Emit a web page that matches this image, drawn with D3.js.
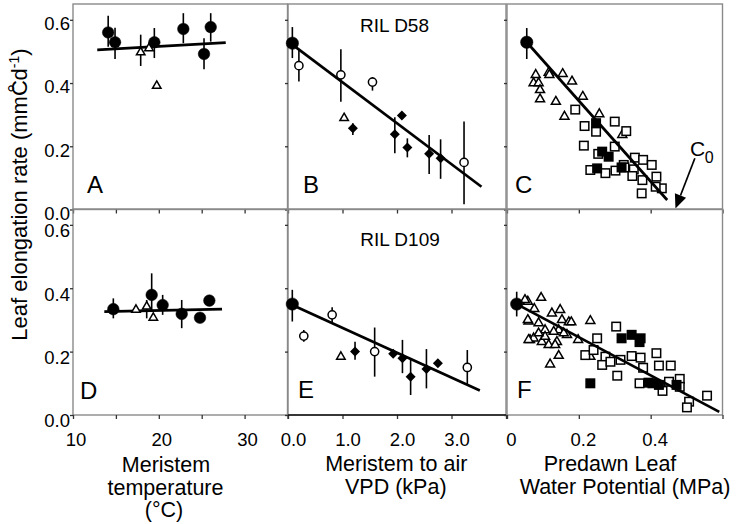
<!DOCTYPE html>
<html><head><meta charset="utf-8">
<script src="https://cdn.jsdelivr.net/npm/d3@7"></script>
<style>
body{margin:0;background:#fff}
svg{display:block}
text{font-family:"Liberation Sans",Arial,Helvetica,sans-serif;fill:#000}
</style>
</head><body><svg id="c" width="738" height="524"></svg>
<script>
// ---------- axis ticks / labels ----------
const tempTicks=[10,15,20,25,30,35];
const tempTickLabels=["10","","20","","30",""];
const vpdTicks=[0,1,2,3,4];
const vpdTickLabels=["0.0","1.0","2.0","3.0",""];
const psiTicks=[0,0.2,0.4,0.6];
const psiTickLabels=["0","0.2","0.4",""];
const rateTicks=[0,0.2,0.4,0.6];
const rateTickLabels=["0.0","0.2","0.4","0.6"];

// ---------- Panel A (RIL D58, temperature) [x, y, errLo, errHi] ----------
const aCircles=[[14.1,0.560,0.515,0.613],[14.9,0.529,0.476,0.575],[19.48,0.529,0.479,0.574],
  [22.86,0.571,0.526,0.621],[25.27,0.492,0.444,0.542],[26.05,0.577,0.531,0.621]];
const aTriangles=[[17.89,0.497,0.454,0.553],[18.86,0.510,null,null],[19.76,0.391,null,null]];
const aFit=[[12.83,0.505],[27.8,0.528]];

// ---------- Panel B (RIL D58, VPD) ----------
const bCircleBig=[[0.08,0.526,0.479,0.577]];
const bOpenCircles=[[0.20,0.455,0.405,0.505],[0.97,0.426,0.341,0.507],[1.55,0.403,0.376,0.419],[3.23,0.149,0.017,0.278]];
const bTriangles=[[1.03,0.289,null,null]];
const bDiamonds=[[1.19,0.257,0.236,0.273],[1.96,0.238,0.178,0.292],[2.09,0.297,null,null],
  [2.19,0.196,0.165,0.225],[2.59,0.176,0.112,0.236],[2.8,0.162,0.097,0.222]];
const bFit=[[0.068,0.523],[3.55,0.072]];

// ---------- Panel C (RIL D58, leaf water potential) ----------
const cCircleBig=[[0.055,0.529,0.476,0.574]];
const cTriangles=[[0.080,0.426],[0.074,0.400],[0.088,0.400],[0.092,0.378],[0.092,0.349],[0.116,0.433],
  [0.118,0.426],[0.155,0.429],[0.181,0.405],[0.136,0.341],[0.160,0.294],[0.211,0.357],[0.257,0.302],[0.321,0.236]];
const cOpenSquares=[[0.190,0.316],[0.216,0.264],[0.248,0.246],[0.300,0.278],[0.332,0.248],[0.214,0.202],
  [0.254,0.176],[0.300,0.199],[0.232,0.125],[0.274,0.115],[0.302,0.123],[0.325,0.141],[0.356,0.164],
  [0.379,0.157],[0.403,0.141],[0.353,0.127],[0.377,0.093],[0.416,0.104],[0.431,0.067],[0.414,0.072],
  [0.375,0.051],[0.327,0.133],[0.349,0.106]];
const cFilledSquares=[[0.248,0.273],[0.265,0.183],[0.283,0.167],[0.251,0.130],[0.319,0.133]];
const cFit=[[0.055,0.529],[0.446,0.030]];
const c0Arrow=[[0.523,0.162],[0.469,0.003]];

// ---------- Panel D (RIL D109, temperature) ----------
const dCircles=[[14.70,0.334,0.305,0.368],[19.17,0.379,0.326,0.447],[20.45,0.347,0.316,0.379],
  [22.67,0.319,0.274,0.363],[24.80,0.307,null,null],[25.89,0.361,null,null]];
const dTriangles=[[17.34,0.332,null,null],[18.59,0.342,0.305,0.363],[19.36,0.307,null,null]];
const dFit=[[13.65,0.326],[27.37,0.334]];

// ---------- Panel E (RIL D109, VPD) ----------
const eCircleBig=[[0.079,0.350,0.295,0.395]];
const eOpenCircles=[[0.29,0.249,0.231,0.268],[0.81,0.316,0.293,0.340],[1.59,0.200,0.121,0.276],[3.29,0.150,0.096,0.205]];
const eTriangles=[[0.97,0.184,null,null]];
const eDiamonds=[[1.23,0.200,0.174,0.231],[1.93,0.193,null,null],[2.10,0.179,0.132,0.237],
  [2.25,0.121,0.063,0.174],[2.54,0.145,0.084,0.208],[2.75,0.163,null,null]];
const eFit=[[0.079,0.347],[3.52,0.077]];

// ---------- Panel F (RIL D109, leaf water potential) ----------
const fCircleBig=[[0.027,0.350,0.311,0.389]];
const fTriangles=[[0.058,0.358],[0.076,0.335],[0.095,0.370],[0.060,0.295],[0.088,0.290],[0.106,0.268],
  [0.064,0.237],[0.074,0.242],[0.097,0.231],[0.116,0.221],[0.125,0.321],[0.148,0.332],[0.153,0.300],
  [0.144,0.268],[0.139,0.231],[0.144,0.187],[0.120,0.160],[0.172,0.293],[0.179,0.293],[0.167,0.253],
  [0.198,0.237],[0.232,0.297],[0.232,0.184],[0.158,0.258],[0.130,0.263],[0.106,0.247],[0.088,0.258],
  [0.134,0.221],[0.050,0.363],[0.058,0.300],[0.060,0.237]];
const fOpenSquares=[[0.304,0.279],[0.251,0.242],[0.218,0.189],[0.241,0.205],[0.274,0.184],[0.265,0.158],
  [0.288,0.168],[0.316,0.174],[0.347,0.186],[0.372,0.181],[0.379,0.149],[0.416,0.195],[0.423,0.156],
  [0.456,0.156],[0.307,0.124],[0.369,0.100],[0.433,0.076],[0.451,0.105],[0.481,0.114],[0.481,0.089],
  [0.507,0.042],[0.501,0.024],[0.557,0.061]];
const fFilledSquares=[[0.319,0.242],[0.347,0.253],[0.372,0.242],[0.369,0.230],[0.232,0.100],
  [0.394,0.102],[0.423,0.095],[0.472,0.095],[0.405,0.100]];
const fFit=[[0.027,0.350],[0.591,0.010]];

// ---------- layout ----------
const svg=d3.select("#c");
const FONT='"Liberation Sans",Arial,sans-serif';
const cols=[
  {dom:[10,35],rng:[73,287.5],ticks:tempTicks,labels:tempTickLabels,ldx:2.5},
  {dom:[0,4],rng:[288,506],ticks:vpdTicks,labels:vpdTickLabels,ldx:5},
  {dom:[0,0.6],rng:[507,722.5],ticks:psiTicks,labels:psiTickLabels,ldx:4}
];
const rows=[{rng:[209.5,4]},{rng:[415,209]}];
const yDom=[0,0.65];

function panel(ci,ri){
  const c=cols[ci],r=rows[ri];
  const x=d3.scaleLinear().domain(c.dom).range(c.rng);
  const y=d3.scaleLinear().domain(yDom).range(r.rng);
  return {x,y,g:svg.append("g")};
}

const panels={};
[["A",0,0],["B",1,0],["C",2,0],["D",0,1],["E",1,1],["F",2,1]].forEach(([k,ci,ri])=>{
  panels[k]=Object.assign(panel(ci,ri),{ci,ri});
});

// borders and axes
Object.values(panels).forEach(p=>{
  const c=cols[p.ci];
  p.g.append("rect").attr("x",p.x.range()[0]).attr("y",p.y.range()[1])
    .attr("width",p.x.range()[1]-p.x.range()[0]).attr("height",p.y.range()[0]-p.y.range()[1])
    .attr("fill","none").attr("stroke","#8a8a8a").attr("stroke-width",1.4);
  const xa=d3.axisBottom(p.x).tickValues(c.ticks).tickSize(4).tickPadding(14)
    .tickFormat((d,i)=>p.ri===1?c.labels[i]:"");
  const gx=p.g.append("g").attr("transform",`translate(0,${p.y.range()[0]})`).call(xa);
  gx.select(".domain").remove();
  gx.selectAll(".tick line").attr("stroke","#333").attr("stroke-width",1.3);
  gx.selectAll("text").attr("font-size",18.5).attr("dx",c.ldx).style("font-family",FONT);
  const ya=d3.axisLeft(p.y).tickValues(rateTicks).tickSize(3).tickPadding(0)
    .tickFormat((d,i)=>p.ci===0?rateTickLabels[i]:"");
  const gy=p.g.append("g").attr("transform",`translate(${p.x.range()[0]},0)`).call(ya);
  gy.select(".domain").remove();
  gy.selectAll(".tick line").attr("stroke","#333").attr("stroke-width",1.3);
  gy.selectAll("text").attr("font-size",18.5).attr("y",p.ri===0?4:6).style("font-family",FONT);
});
(function(){const p=panels.E;p.g.append("line").attr("x1",p.x.range()[0]).attr("x2",p.x.range()[1])
  .attr("y1",p.y.range()[0]).attr("y2",p.y.range()[0]).attr("stroke","#111").attr("stroke-width",1.5);})();

// ---------- marks ----------
function fit(p,pts){
  p.g.append("line").attr("x1",p.x(pts[0][0])).attr("y1",p.y(pts[0][1]))
    .attr("x2",p.x(pts[1][0])).attr("y2",p.y(pts[1][1]))
    .attr("stroke","#000").attr("stroke-width",2.7);
}
function errs(p,pts){
  p.g.selectAll(null).data(pts.filter(d=>d[2]!=null)).enter().append("line")
    .attr("x1",d=>p.x(d[0])).attr("x2",d=>p.x(d[0]))
    .attr("y1",d=>p.y(d[2])).attr("y2",d=>p.y(d[3]))
    .attr("stroke","#000").attr("stroke-width",1.6);
}
function circles(p,pts,r,filled){
  p.g.selectAll(null).data(pts).enter().append("circle")
    .attr("cx",d=>p.x(d[0])).attr("cy",d=>p.y(d[1])).attr("r",r)
    .attr("fill",filled?"#000":"#fff").attr("stroke","#000").attr("stroke-width",filled?0.5:1.5);
}
function triangles(p,pts,s){
  const h=s*0.87;
  p.g.selectAll(null).data(pts).enter().append("path")
    .attr("d",d=>{const cx=p.x(d[0]),cy=p.y(d[1]);
      return `M${cx},${cy-h*2/3}L${cx+s/2},${cy+h/3}L${cx-s/2},${cy+h/3}Z`;})
    .attr("fill","#fff").attr("stroke","#000").attr("stroke-width",1.5).attr("stroke-linejoin","miter");
}
function diamonds(p,pts,a){
  p.g.selectAll(null).data(pts).enter().append("path")
    .attr("d",d=>{const cx=p.x(d[0]),cy=p.y(d[1]);
      return `M${cx},${cy-a}L${cx+a},${cy}L${cx},${cy+a}L${cx-a},${cy}Z`;})
    .attr("fill","#000");
}
function squares(p,pts,s,filled){
  p.g.selectAll(null).data(pts).enter().append("rect")
    .attr("x",d=>p.x(d[0])-s/2).attr("y",d=>p.y(d[1])-s/2).attr("width",s).attr("height",s)
    .attr("fill",filled?"#000":"#fff").attr("stroke","#000").attr("stroke-width",1.5);
}

// A
fit(panels.A,aFit); errs(panels.A,aCircles); errs(panels.A,aTriangles);
triangles(panels.A,aTriangles,8.5); circles(panels.A,aCircles,5.8,true);
// B
fit(panels.B,bFit); errs(panels.B,bCircleBig); errs(panels.B,bOpenCircles); errs(panels.B,bDiamonds);
circles(panels.B,bOpenCircles,4.1,false); triangles(panels.B,bTriangles,8.5);
diamonds(panels.B,bDiamonds,5); circles(panels.B,bCircleBig,6.2,true);
// C
errs(panels.C,cCircleBig);
triangles(panels.C,cTriangles,9); squares(panels.C,cOpenSquares,8.5,false); squares(panels.C,cFilledSquares,8.5,true);
fit(panels.C,cFit); circles(panels.C,cCircleBig,6.2,true);
// D
fit(panels.D,dFit); errs(panels.D,dCircles); errs(panels.D,dTriangles);
triangles(panels.D,dTriangles,8.5); circles(panels.D,dCircles,5.8,true);
// E
fit(panels.E,eFit); errs(panels.E,eCircleBig); errs(panels.E,eOpenCircles); errs(panels.E,eDiamonds);
circles(panels.E,eOpenCircles,4.1,false); triangles(panels.E,eTriangles,8.5);
diamonds(panels.E,eDiamonds,5); circles(panels.E,eCircleBig,6.2,true);
// F
errs(panels.F,fCircleBig);
triangles(panels.F,fTriangles,9); squares(panels.F,fOpenSquares,8.5,false); squares(panels.F,fFilledSquares,8.5,true);
fit(panels.F,fFit); circles(panels.F,fCircleBig,6.2,true);

// c0 arrow
(function(){const p=panels.C;
  const x1=p.x(c0Arrow[0][0]),y1=p.y(c0Arrow[0][1]),x2=p.x(c0Arrow[1][0]),y2=p.y(c0Arrow[1][1]);
  const ang=Math.atan2(y2-y1,x2-x1),L=14,Hw=6;
  const bx=x2-L*Math.cos(ang),by=y2-L*Math.sin(ang);
  p.g.append("line").attr("x1",x1).attr("y1",y1).attr("x2",bx).attr("y2",by).attr("stroke","#000").attr("stroke-width",1.7);
  const nx=-Math.sin(ang),ny=Math.cos(ang);
  p.g.append("path").attr("d",`M${x2},${y2}L${bx+nx*Hw},${by+ny*Hw}L${bx-nx*Hw},${by-ny*Hw}Z`).attr("fill","#000");
  const t=p.g.append("text").attr("x",690).attr("y",156).attr("font-size",21);
  t.append("tspan").text("C");
  t.append("tspan").attr("font-size",16).attr("dy",7).attr("dx",-0.5).text("0");
})();

// ---------- texts ----------
const lab=(txt,x,y,fs,anchor)=>svg.append("text").attr("x",x).attr("y",y).attr("font-size",fs)
  .attr("text-anchor",anchor||"start").text(txt);
lab("A",87,193,24); lab("B",303,193,24); lab("C",515,193,24);
lab("D",80,398.5,24); lab("E",298,398,24); lab("F",517,398,24);
lab("RIL D58",394.5,32.3,19,"middle");
lab("RIL D109",400,246,19,"middle");

lab("Meristem",166,471.5,21.5,"middle");
lab("temperature",165.5,494.5,21.5,"middle");
lab("(°C)",164,516.5,21.5,"middle");
lab("Meristem to air",396.3,471,21.5,"middle");
lab("VPD (kPa)",395.8,494,21.5,"middle");
lab("Predawn Leaf",610,471,21.5,"middle");
lab("Water Potential (MPa)",625,494,21.5,"middle");

// y title
(function(){
  const t=svg.append("text").attr("transform","translate(27,194.5) rotate(-90)")
    .attr("text-anchor","middle").attr("font-size",22);
  t.append("tspan").text("Leaf elongation rate (mmC");
  t.append("tspan").attr("dx",-12.5).attr("dy",-3).text("°");
  t.append("tspan").attr("dx",3.5).attr("dy",3).text("d");
  t.append("tspan").attr("font-size",14).attr("dy",-8).text("-1");
  t.append("tspan").attr("dy",8).text(")");
})();
</script></body></html>
